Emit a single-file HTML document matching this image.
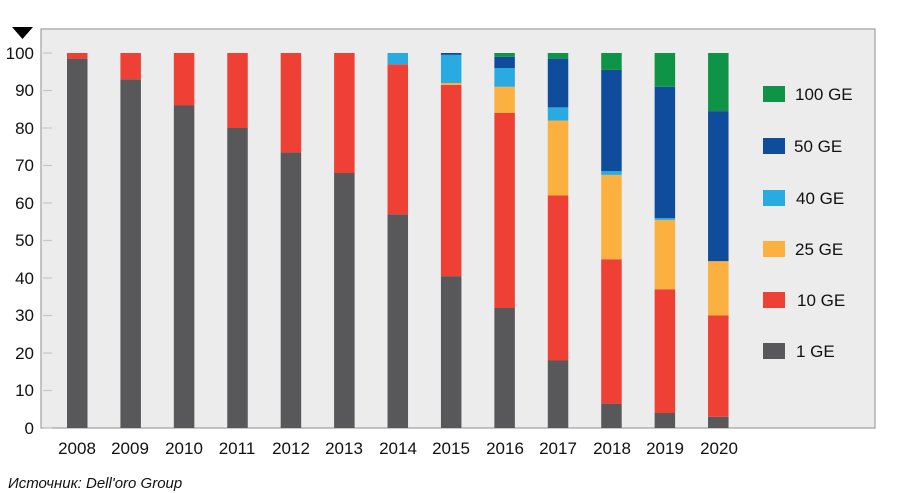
<!DOCTYPE html>
<html><head><meta charset="utf-8"><style>
body{margin:0;background:#fff;}
svg{display:block;font-family:"Liberation Sans",sans-serif;}
</style></head><body>
<svg id="s" width="900" height="493" xmlns="http://www.w3.org/2000/svg">
<rect x="41" y="29" width="834" height="399" fill="#ececec" stroke="#a0a0a0" stroke-width="1.2"/>
<polygon points="12,27 33,27 22.5,39" fill="#000"/>
<g font-size="17" fill="#111" text-anchor="end">
<text x="34" y="434">0</text><text x="34" y="396">10</text><text x="34" y="359">20</text>
<text x="34" y="321">30</text><text x="34" y="284">40</text><text x="34" y="246">50</text>
<text x="34" y="209">60</text><text x="34" y="171">70</text><text x="34" y="134">80</text>
<text x="34" y="96">90</text><text x="34" y="59">100</text>
</g>
<g font-size="17" fill="#111" text-anchor="middle">
<text x="77" y="454">2008</text><text x="130" y="454">2009</text><text x="184" y="454">2010</text>
<text x="237" y="454">2011</text><text x="291" y="454">2012</text><text x="344" y="454">2013</text>
<text x="398" y="454">2014</text><text x="451" y="454">2015</text><text x="505" y="454">2016</text>
<text x="558" y="454">2017</text><text x="612" y="454">2018</text><text x="665" y="454">2019</text>
<text x="719" y="454">2020</text>
</g>
<text x="8" y="488" font-size="15" font-style="italic" fill="#111">Источник: Dell'oro Group</text>
<g id="bars"></g>
<g font-size="17" fill="#111">
<rect x="763" y="86" width="22" height="16" fill="#0f9447"/><text x="795" y="100">100 GE</text>
<rect x="763" y="138" width="22" height="16" fill="#0f4c9c"/><text x="794" y="152">50 GE</text>
<rect x="763" y="190" width="22" height="16" fill="#29aae1"/><text x="796" y="204">40 GE</text>
<rect x="763" y="241" width="22" height="16" fill="#fbb040"/><text x="795" y="255">25 GE</text>
<rect x="763" y="292" width="22" height="16" fill="#ef4036"/><text x="797" y="306">10 GE</text>
<rect x="763" y="343" width="22" height="16" fill="#58585a"/><text x="796" y="357">1 GE</text>
</g>
</svg>
<script>
var cols=["#58585a","#ef4036","#fbb040","#29aae1","#0f4c9c","#0f9447"];
var d=[[98.5,100],[93,100],[86,100],[80,100],[73.5,100],[68,100],[57,97,97,100],
[40.5,91.5,92,99.5,100],[32,84,91,96,99,100],[18,62,82,85.5,98.5,100],
[6.5,45,67.5,68.5,95.5,100],[4,37,55.5,56,91,100],[3,30,44.5,44.5,84.5,100]];
var g=document.getElementById("bars"),ns="http://www.w3.org/2000/svg",h="";
for(var t=0;t<=10;t++){var y=428-t*37.5;h+='<line x1="43" x2="52" y1="'+y+'" y2="'+y+'" stroke="#c8c8c8" stroke-width="1.2"/>';}
d.forEach(function(a,i){var x=67+i*53.42,prev=0;a.forEach(function(v,k){
if(v>prev){var y1=428-v*3.75,y0=428-prev*3.75;h+='<rect x="'+x+'" y="'+y1+'" width="20.5" height="'+(y0-y1)+'" fill="'+cols[k]+'"/>';}prev=v;});});
g.innerHTML=h;
</script>
</body></html>
